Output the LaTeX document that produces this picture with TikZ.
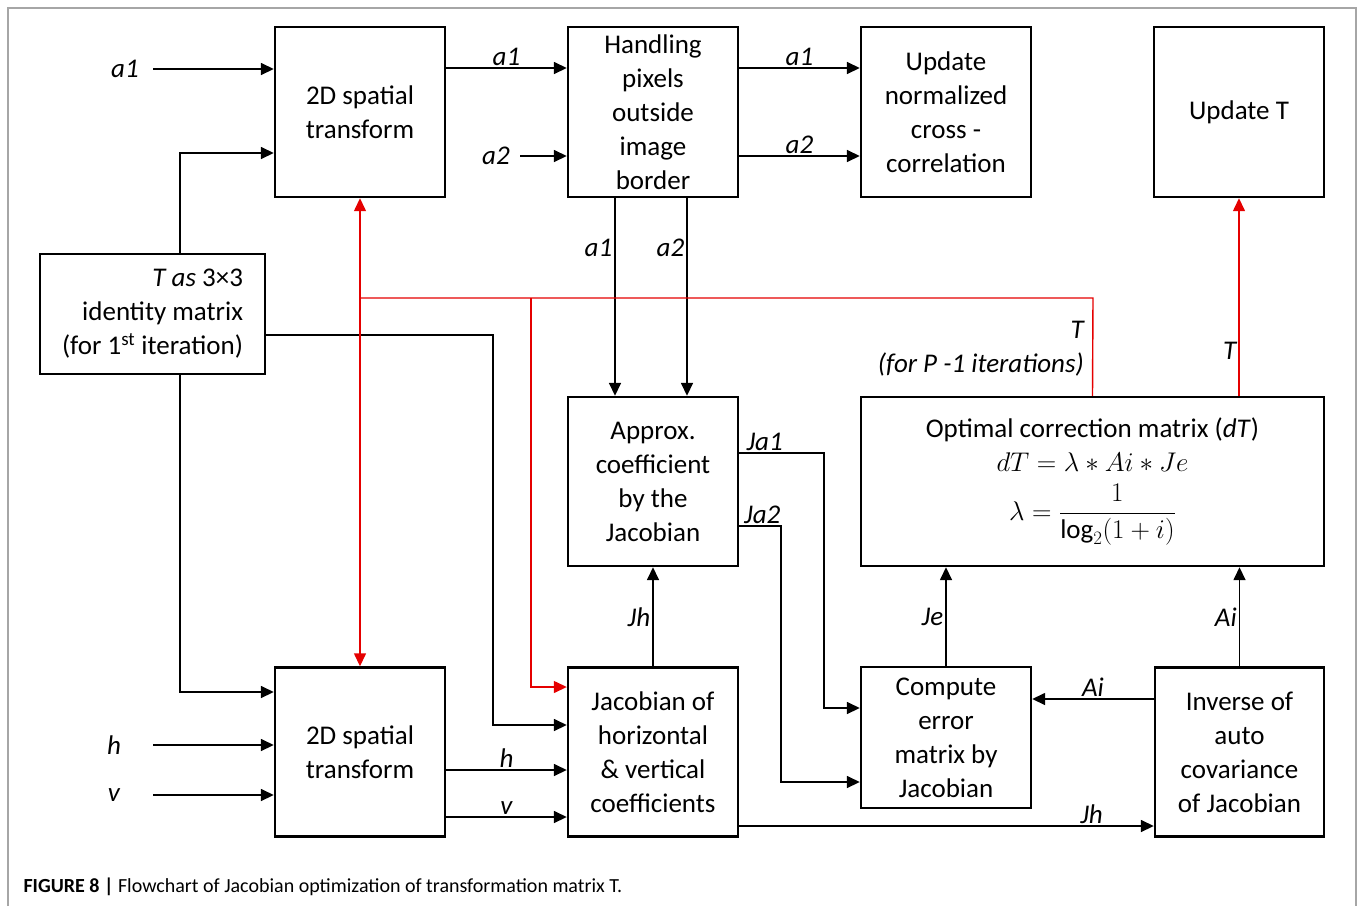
\RequirePackage{fix-cm}
\documentclass[tikz,border=0pt]{standalone}
\usepackage{amsmath}
\usepackage{fontspec}
\setmainfont{Carlito}
\usetikzlibrary{arrows.meta}

\begin{document}
\begin{tikzpicture}[x=1pt, y=-1pt,
	box/.style={draw, line width=2.4pt, align=center, inner sep=0pt, font=\fontsize{27}{34}\selectfont},
	lbl/.style={font=\fontsize{27}{34}\selectfont\itshape, inner sep=2pt},
	>={Triangle[length=13pt, width=12pt]},
	conn/.style={line width=1.6pt, ->},
	fbline/.style={line width=1.4pt, red!90!black},
	fbarr/.style={fbline, ->}]
	\useasboundingbox (0,0) rectangle (1358,906);
	\draw[gray!70, line width=1.2pt] (8,906) |- (1356,8) -- (1356,906);

	% top row
	\node[box, minimum width=170pt, minimum height=170pt] (A) at (360,112) {2D spatial\\transform};
	\node[box, minimum width=170pt, minimum height=170pt] (B) at (653,112) {Handling\\pixels\\outside\\image\\border};
	\node[box, minimum width=170pt, minimum height=170pt] (C) at (946,112) {Update\\normalized\\cross -\\correlation};
	\node[box, minimum width=170pt, minimum height=170pt] (D) at (1239,112) {Update T};
	\node[box, minimum width=225pt, minimum height=120pt, align=right] (E) at (152.5,314) {\textit{T as} 3×3\\identity matrix\\(for 1\textsuperscript{st} iteration)};

	% middle row
	\node[box, minimum width=170pt, minimum height=169pt] (F) at (653,481.5) {Approx.\\coefficient\\by the\\Jacobian};
	\node[box, minimum width=463pt, minimum height=169pt] (G) at (1092.5,481.5) {Optimal correction matrix (\textit{dT})\\[0pt]
		$dT=\lambda*Ai*Je$\\[12pt] $\lambda=\dfrac{1}{\log_2(1+i)}$};

	% bottom row
	\node[box, minimum width=170pt, minimum height=169pt] (H) at (360,752) {2D spatial\\transform};
	\node[box, minimum width=170pt, minimum height=169pt] (I) at (653,752) {Jacobian of\\horizontal\\\& vertical\\coefficients};
	\node[box, minimum width=170pt, minimum height=141pt] (J) at (946,737.5) {Compute\\error\\matrix by\\Jacobian};
	\node[box, minimum width=169pt, minimum height=169pt] (K) at (1239.5,752) {Inverse of\\auto\\covariance\\of Jacobian};

	% inputs
	\node[lbl] (la1) at (125,69) {a1};
	\node[lbl] (la2) at (496,156) {a2};
	\node[lbl] (lh) at (114,745) {h};
	\node[lbl] (lv) at (114,795) {v};
	\draw[conn] (la1.center) ++(28,0) -- (la1 -| A.west);
	\draw[conn] (la2.center) ++(24,0) -- (la2 -| B.west);
	\draw[conn] (lh.center) ++(39,0) -- (lh -| H.west);
	\draw[conn] (lv.center) ++(39,0) -- (lv -| H.west);

	% black connectors
	\path[conn] ([yshift=44]A.east) edge node[lbl, above] {a1} ([yshift=44]B.west);
	\path[conn] ([yshift=44]B.east) edge node[lbl, above] {a1} ([yshift=44]C.west);
	\path[conn] ([yshift=-44]B.east) edge node[lbl, above] {a2} ([yshift=-44]C.west);
	\path[conn] ([xshift=-38]B.south) edge node[lbl, left, pos=0.25] {a1} ([xshift=-38]F.north);
	\path[conn] ([xshift=34]B.south) edge node[lbl, left, pos=0.25] {a2} ([xshift=34]F.north);
	\draw[conn] ([xshift=27.5]E.north) |- ([yshift=-41]A.west);
	\draw[conn] ([xshift=27.5]E.south) |- ([yshift=60]H.west);
	\draw[conn] ([yshift=-21]E.east) -- ++(227,0) |- ([yshift=27]I.west);
	\path[conn] ([yshift=-18]H.east) edge node[lbl, above] {h} ([yshift=-18]I.west);
	\path[conn] ([yshift=-65]H.east) edge node[lbl, above] {v} ([yshift=-65]I.west);
	\path[conn] (I.north) edge node[lbl, left] {Jh} (F.south);
	\draw[conn] ([yshift=28.5]F.east) -- node[lbl, above, pos=0.3] {Ja1} ++(85,0) |- ([yshift=29.5]J.west);
	\draw[conn] ([yshift=-44.5]F.east) -- node[lbl, above, pos=0.55] {Ja2} ++(42,0) |- ([yshift=-44.5]J.west);
	\path[conn] (J.north) edge node[lbl, left] {Je} (J.north |- G.south);
	\path[conn] (K.north) edge node[lbl, left] {Ai} (K.north |- G.south);
	\path[conn] ([yshift=53]K.west) edge node[lbl, above] {Ai} ([yshift=53]K.west -| J.east);
	\path[conn] ([yshift=-74]I.east) edge node[lbl, above, pos=0.85] {Jh} ([yshift=-74]I.east -| K.west);

	% feedback of T
	\coordinate (fbr) at (1093,298);
	\coordinate (fbl) at (531,298);
	\draw[fbline] (G.north) -- (fbr) -- (fbr -| A.south);
	\draw[fbarr, <->] (A.south) -- (H.north);
	\draw[fbarr] (fbl) |- ([yshift=65]I.west);
	\path[fbarr] (D.south |- G.north) edge node[lbl, black, left, pos=0.23] {T} (D.south);
	\node[lbl, align=right, anchor=east] (lT) at (1086,349) {T\\(for P -1 iterations)};

	% caption
	\node[anchor=west, font=\fontsize{20}{23}\selectfont] (cap) at (20,887) {\textbf{FIGURE 8 |} Flowchart of Jacobian optimization of transformation matrix T.};
\end{tikzpicture}
\end{document}
